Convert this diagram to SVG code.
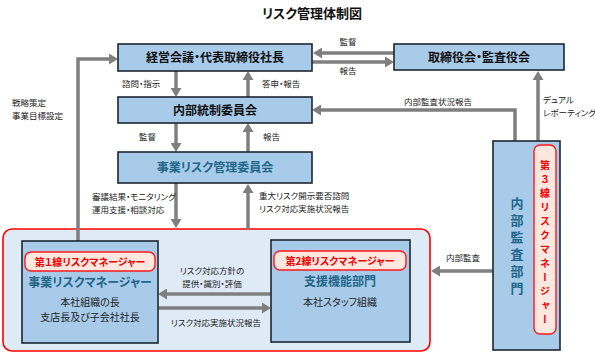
<svg xmlns="http://www.w3.org/2000/svg" width="595" height="356" viewBox="0 0 595 356">
<style>
text{font-family:"Noto Sans CJK JP","Noto Sans",sans-serif;font-feature-settings:"palt"}
.box{fill:#a9cbea;stroke:#1c2733;stroke-width:1.6}
.cont{fill:#deebf7;stroke:#ff0000;stroke-width:1.6}
.tag{fill:#fde7df;stroke:#ff1a1a;stroke-width:1.4}
.h{font-size:12px;font-weight:bold;fill:#111;text-anchor:middle}
.t{font-size:12px;font-weight:bold;fill:#1f6688;text-anchor:middle}
.r{font-size:10px;font-weight:bold;fill:#ee0000;text-anchor:middle}
.s{font-size:8.5px;fill:#222}
.m{font-size:10px;fill:#222;text-anchor:middle}
.c{text-anchor:middle}
.ln{fill:none;stroke:#7f7f7f;stroke-width:3.5}
.v{writing-mode:vertical-rl;font-feature-settings:normal;text-anchor:middle}
</style>
<defs>
<marker id="ah" markerUnits="userSpaceOnUse" markerWidth="9" markerHeight="11" viewBox="0 0 9 11" refX="0" refY="5.5" orient="auto">
<path d="M0,0 L9,5.5 L0,11 z" fill="#7f7f7f"/>
</marker>
</defs>
<text x="312" y="18" style="font-size:13px;font-weight:bold;fill:#111;text-anchor:middle">リスク管理体制図</text>
<rect class="cont" x="3" y="229" width="427" height="122" rx="9"/>
<g id="connectors">
<line class="ln" x1="394" y1="53" x2="322" y2="53" marker-end="url(#ah)"/>
<line class="ln" x1="312" y1="62" x2="385" y2="62" marker-end="url(#ah)"/>
<line class="ln" x1="176" y1="71" x2="176" y2="88" marker-end="url(#ah)"/>
<line class="ln" x1="248" y1="97" x2="248" y2="80" marker-end="url(#ah)"/>
<line class="ln" x1="176" y1="123" x2="176" y2="143" marker-end="url(#ah)"/>
<line class="ln" x1="248" y1="152" x2="248" y2="132" marker-end="url(#ah)"/>
<line class="ln" x1="176" y1="183" x2="176" y2="219" marker-end="url(#ah)"/>
<line class="ln" x1="248" y1="229" x2="248" y2="193" marker-end="url(#ah)"/>
<polyline class="ln" points="78,241 78,59 109,59" marker-end="url(#ah)"/>
<polyline class="ln" points="515,141 515,110 321,110" marker-end="url(#ah)"/>
<line class="ln" x1="538" y1="141" x2="538" y2="80" marker-end="url(#ah)"/>
<line class="ln" x1="493" y1="271" x2="440" y2="271" marker-end="url(#ah)"/>
<line class="ln" x1="271" y1="294" x2="167" y2="294" marker-end="url(#ah)"/>
<line class="ln" x1="158" y1="308" x2="262" y2="308" marker-end="url(#ah)"/>
<text class="s c" x="348" y="45">監督</text>
<text class="s c" x="348" y="74">報告</text>
<text class="s" x="122" y="87">諮問・指示</text>
<text class="s" x="262" y="87">答申・報告</text>
<text class="s" x="139" y="140">監督</text>
<text class="s" x="263" y="140">報告</text>
<text class="s" x="92" y="200">審議結果・モニタリング</text>
<text class="s" x="92" y="212.5">運用支援・相談対応</text>
<text class="s" x="259" y="199">重大リスク開示要否諮問</text>
<text class="s" x="259" y="211.5">リスク対応実施状況報告</text>
<text class="s" x="12" y="106">戦略策定</text>
<text class="s" x="12" y="118.5">事業目標設定</text>
<text class="s c" x="438" y="105">内部監査状況報告</text>
<text class="s" x="543" y="103">デュアル</text>
<text class="s" x="543" y="115.5">レポーティング</text>
<text class="s c" x="463" y="261">内部監査</text>
<text class="s c" x="212" y="274">リスク対応方針の</text>
<text class="s c" x="212" y="286.5">提供・識別・評価</text>
<text class="s c" x="216" y="326">リスク対応実施状況報告</text>
</g>
<g id="top">
<rect class="box" x="118" y="44" width="194" height="27"/>
<text class="h" x="215" y="62">経営会議・代表取締役社長</text>
</g>
<g id="board">
<rect class="box" x="394" y="44" width="170" height="26"/>
<text class="h" x="479" y="62">取締役会・監査役会</text>
</g>
<g id="internal-control">
<rect class="box" x="118" y="97" width="194" height="26"/>
<text class="h" x="215" y="114.5">内部統制委員会</text>
</g>
<g id="risk-committee">
<rect class="box" x="118" y="152" width="194" height="31"/>
<text class="t" x="215" y="172">事業リスク管理委員会</text>
</g>
<g id="line1">
<rect class="box" x="22" y="241" width="136" height="102"/>
<rect class="tag" x="25" y="252" width="130" height="19" rx="6"/>
<text class="r" x="90" y="265.5">第１線リスクマネージャー</text>
<text class="t" x="90" y="287">事業リスクマネージャー</text>
<text class="m" x="90" y="306">本社組織の長</text>
<text class="m" x="90" y="320.5">支店長及び子会社社長</text>
</g>
<g id="line2">
<rect class="box" x="271" y="240" width="139" height="102"/>
<rect class="tag" x="274" y="251" width="132" height="19" rx="6"/>
<text class="r" x="340" y="264.5">第2線リスクマネージャー</text>
<text class="t" x="340" y="286">支援機能部門</text>
<text class="m" x="340" y="306">本社スタッフ組織</text>
</g>
<g id="audit">
<rect class="box" x="493" y="141" width="67" height="209"/>
<text class="t v" x="517" y="248" style="font-size:13px;letter-spacing:4px">内部監査部門</text>
<rect class="tag" x="534" y="145" width="22" height="189" rx="6"/>
<text class="r v" x="545" y="244" style="letter-spacing:4px">第３線リスクマネージャー</text>
</g>
</svg>
